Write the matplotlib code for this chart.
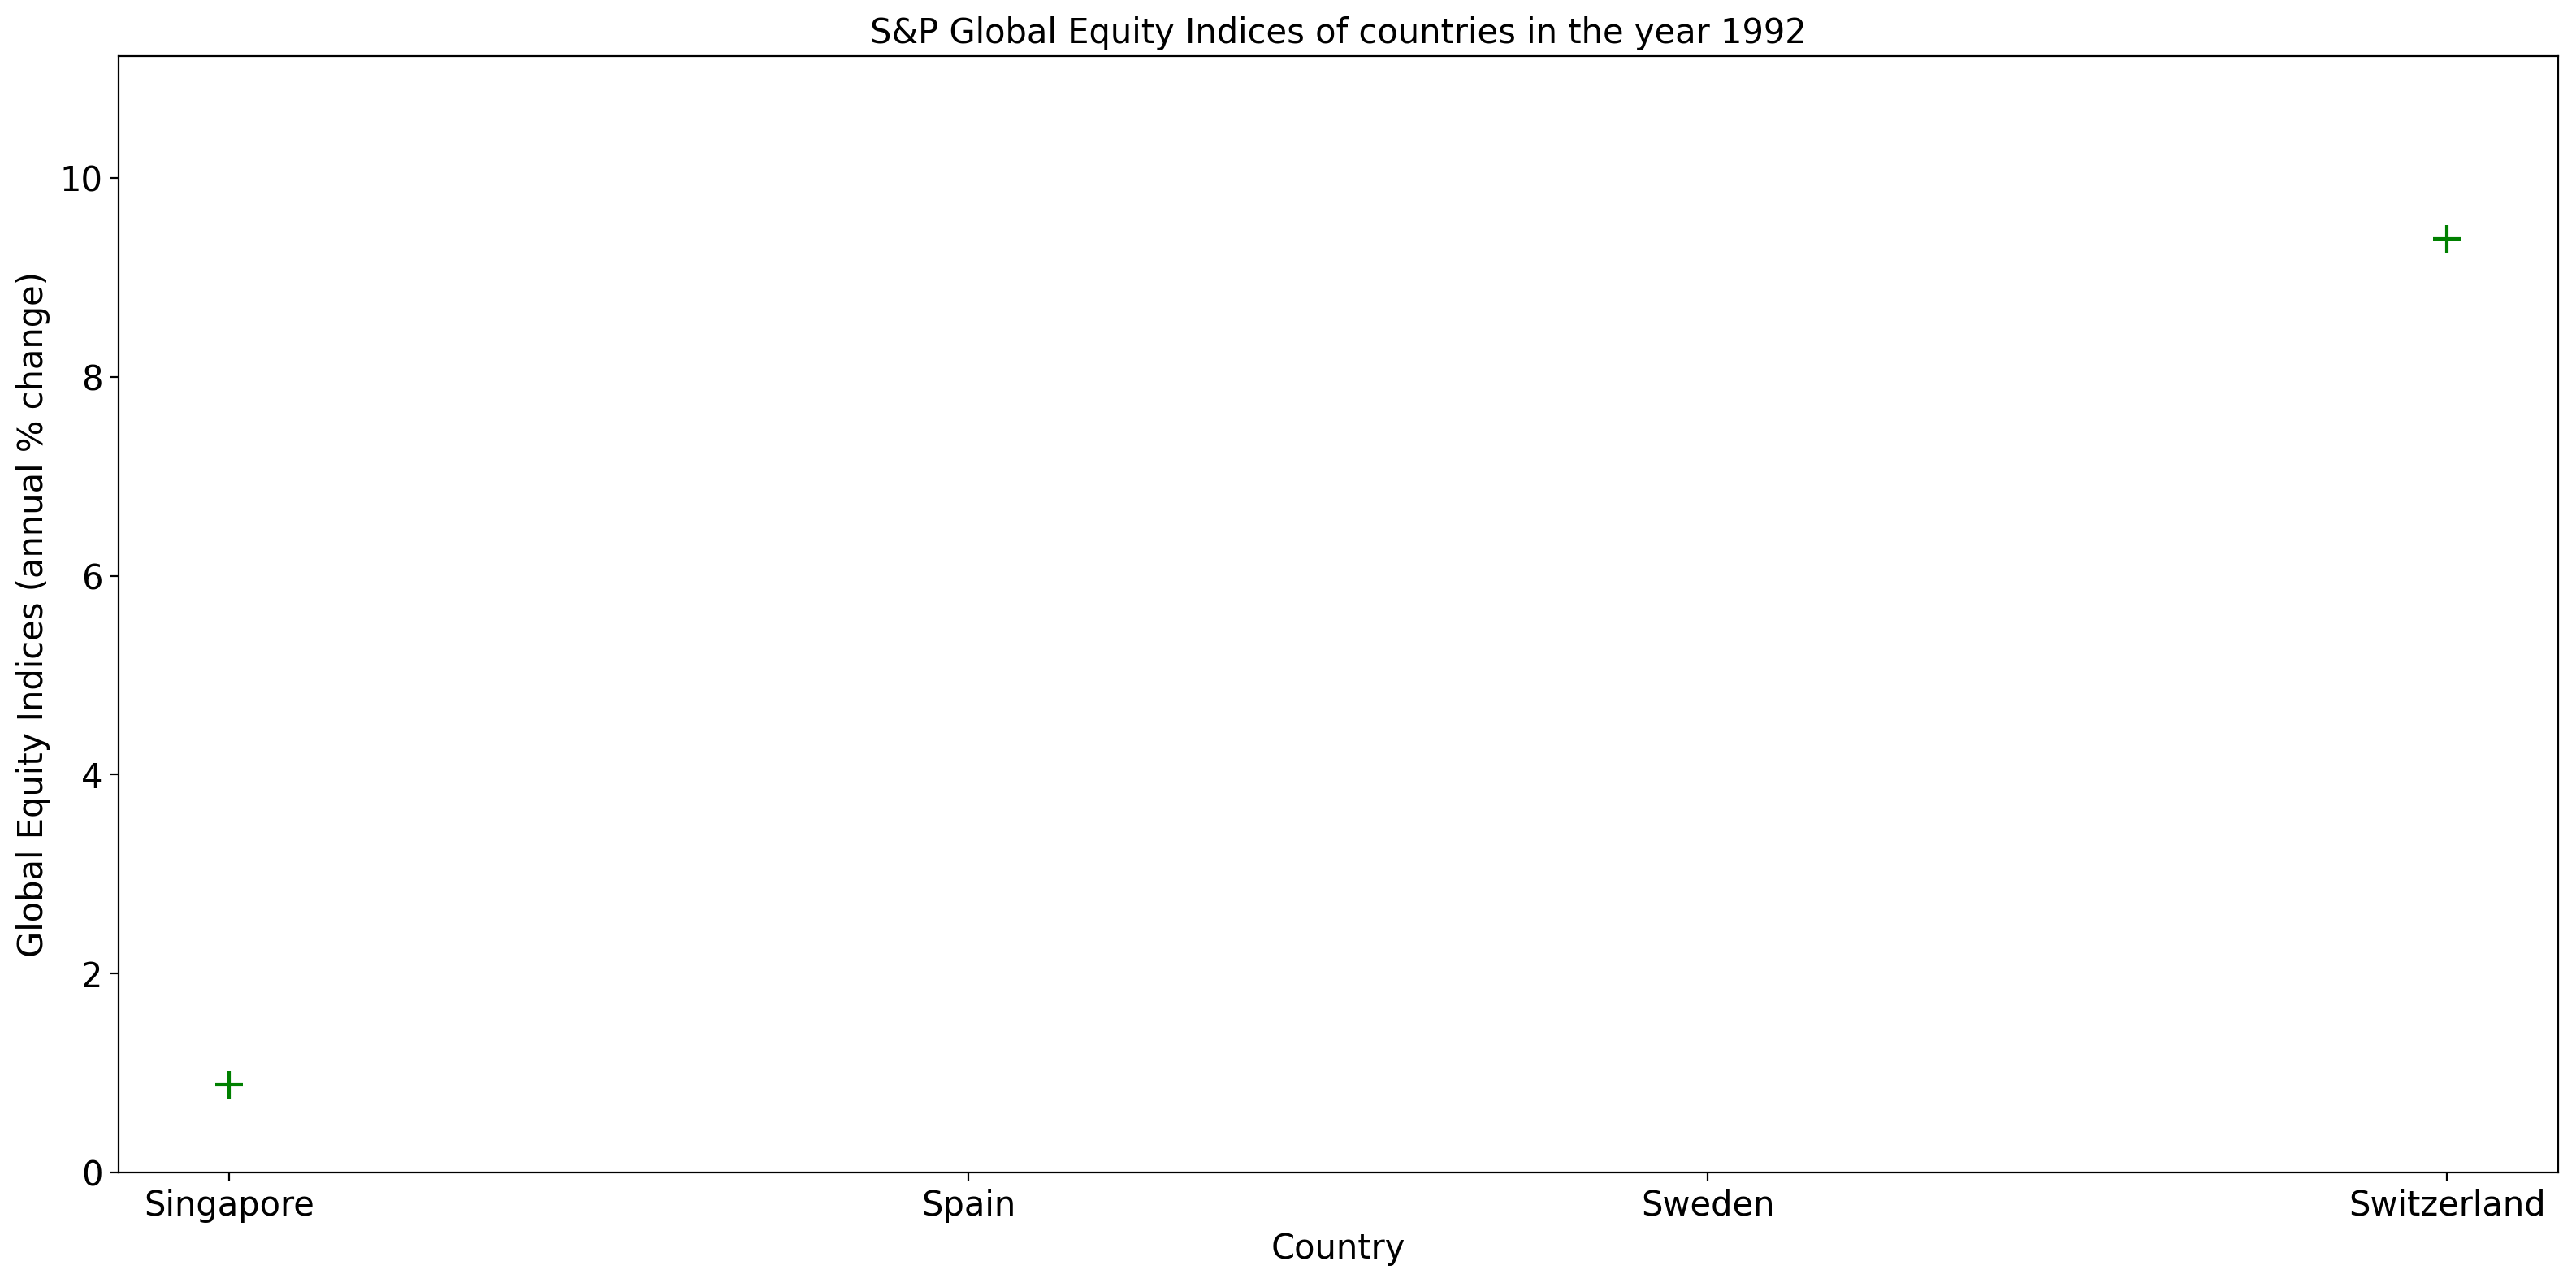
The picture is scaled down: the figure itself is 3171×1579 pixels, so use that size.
import matplotlib
matplotlib.use("Agg")
import matplotlib.pyplot as plt
import numpy as np

countries = ["Singapore", "Spain", "Sweden", "Switzerland"]
values = [0.88, np.nan, np.nan, 9.39]

fig = plt.figure(figsize=(15.855, 7.895), dpi=200)
ax = fig.add_axes([0.046, 0.086, 0.947, 0.870])
ax.scatter(countries, values, marker="+", color="green", s=150, linewidths=1.5)
ax.set_ylim(0, 11.22)
ax.set_xlim(-0.15, 3.15)
ax.set_title("S&P Global Equity Indices of countries in the year 1992", fontsize=15)
ax.set_xlabel("Country", fontsize=15)
ax.set_ylabel("Global Equity Indices (annual % change)", fontsize=15)
ax.tick_params(labelsize=15)
fig.savefig("out.png", dpi=200)
